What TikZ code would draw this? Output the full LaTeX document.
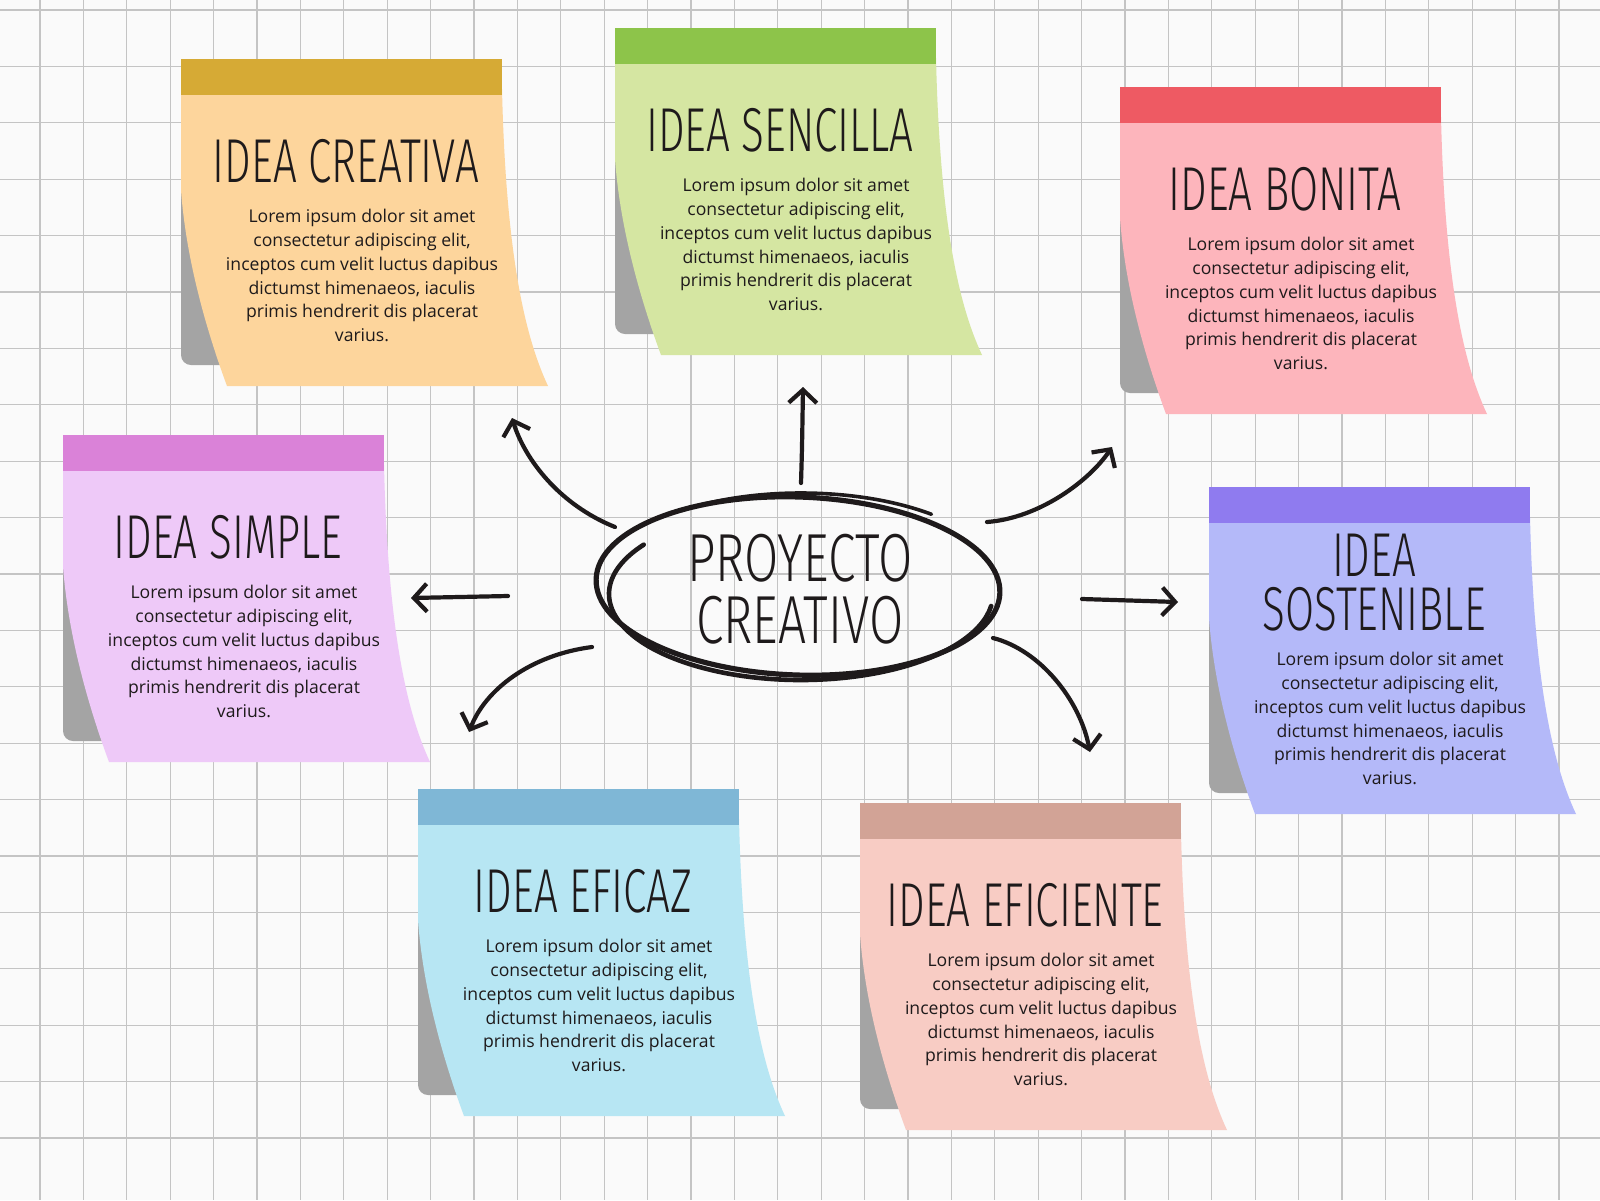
\documentclass[tikz,border=0pt]{standalone}
\usepackage{fontspec}
\setmainfont{Open Sans}
\newfontfamily\titlefont[FakeStretch=0.68]{Fira Sans Light}
\newfontfamily\centerfont[FakeStretch=0.73]{Fira Sans Light}
\usepackage{tikz}
\usetikzlibrary{arrows.meta,positioning,calc}

\definecolor{paper}{HTML}{FAFAFA}
\definecolor{gridgray}{HTML}{C4C4C4}
\definecolor{shadowgray}{HTML}{A4A4A4}
\definecolor{ink}{HTML}{1E1A1B}
\definecolor{creativaTab}{HTML}{D6AA35}
\definecolor{creativaBody}{HTML}{FDD59C}
\definecolor{sencillaTab}{HTML}{8DC44A}
\definecolor{sencillaBody}{HTML}{D5E6A2}
\definecolor{bonitaTab}{HTML}{EE5A63}
\definecolor{bonitaBody}{HTML}{FDB5BC}
\definecolor{simpleTab}{HTML}{DA82D8}
\definecolor{simpleBody}{HTML}{EEC9F8}
\definecolor{sostenibleTab}{HTML}{8F7BEF}
\definecolor{sostenibleBody}{HTML}{B4B9F9}
\definecolor{eficazTab}{HTML}{7FB7D6}
\definecolor{eficazBody}{HTML}{B7E6F3}
\definecolor{eficienteTab}{HTML}{D2A396}
\definecolor{eficienteBody}{HTML}{F8CCC4}

\newcommand{\loremtxt}{Lorem ipsum dolor sit amet\\ consectetur adipiscing elit,\\
  inceptos cum velit luctus dapibus\\ dictumst himenaeos, iaculis\\
  primis hendrerit dis placerat\\ varius.}

% #1 name, #2 x, #3 y (top left of the tab), #4 tab, #5 body,
% #6 title, #7 title offset, #8 text offset
\newcommand{\postit}[8]{%
  \fill[shadowgray,rounded corners=5pt] (#2,#3+60) rectangle (#2+170,#3+306);
  \fill[#5] (#2,#3+30) -- (#2+321,#3+30)
    .. controls (#2+325,#3+200) and (#2+345,#3+280) .. (#2+367,#3+327)
    -- (#2+46,#3+327)
    .. controls (#2+25,#3+270) and (#2+5,#3+200) .. (#2,#3+131) -- cycle;
  \fill[#4] (#2,#3) rectangle (#2+321,#3+36);
  \node[ideatitle] (#1) at (#2+165,#3+#7) {#6};
  \node[ideatext,anchor=north] (#1-txt) at (#2+181,#3+#8) {\loremtxt};
}

\begin{document}
\begin{tikzpicture}[x=0.5pt,y=-0.5pt,
  ideatitle/.style={font=\titlefont\fontsize{31}{27}\selectfont,
    text=ink,inner sep=0pt,align=center},
  ideatext/.style={font=\fontsize{8.8}{11.9}\selectfont,
    text=ink,inner sep=0pt,align=center},
  gridline/.style={gridgray,line width=0.55pt},
  scribble/.style={ink,line width=2.6pt,line cap=round},
  idea arrow/.style={ink,line width=2.1pt,line cap=round,
    -{Straight Barb[length=6.5pt,width=14pt]}}]
\useasboundingbox (0,0) rectangle (1600,1200);
\fill[paper] (0,0) rectangle (1600,1200);
%\draw[help lines] (0,0) grid (1600,1200);
\foreach \i in {0,...,35}
  \draw[gridline] ({40+43.4*\i},0) -- ({40+43.4*\i},1200);
\foreach \j in {0,...,20}
  \draw[gridline] (0,{10+56.4*\j}) -- (1600,{10+56.4*\j});

\postit{creativa}{181}{59}{creativaTab}{creativaBody}{IDEA CREATIVA}{102}{150}
\postit{sencilla}{615}{28}{sencillaTab}{sencillaBody}{IDEA SENCILLA}{102}{150}
\postit{bonita}{1120}{87}{bonitaTab}{bonitaBody}{IDEA BONITA}{102}{150}
\postit{simple}{63}{435}{simpleTab}{simpleBody}{IDEA SIMPLE}{102}{150}
\postit{sostenible}{1209}{487}{sostenibleTab}{sostenibleBody}{IDEA\\SOSTENIBLE}{96}{165}
\postit{eficaz}{418}{789}{eficazTab}{eficazBody}{IDEA EFICAZ}{102}{150}
\postit{eficiente}{860}{803}{eficienteTab}{eficienteBody}{IDEA EFICIENTE}{102}{150}

% centre
\node[ideatitle,font=\centerfont\fontsize{34}{31}\selectfont] (proyecto)
  at (800,589) {PROYECTO\\CREATIVO};
\draw[scribble] (798,586) ellipse [x radius=202,y radius=89,rotate=-2];
\draw[scribble,line width=2.3pt] (801,594) ++(215:192 and 86)
  arc[start angle=215,end angle=8,x radius=192,y radius=86];
\draw[scribble,line width=1.8pt] (801,584) ++(-126:203 and 91)
  arc[start angle=-126,end angle=-50,x radius=203,y radius=91];

% arrows
\coordinate (sencilla-from) at (801,483);
\coordinate (sencilla-to) at (803,387);
\coordinate (creativa-from) at (615,527);
\coordinate (creativa-to) at (512,418);
\coordinate (bonita-from) at (987,522);
\coordinate (bonita-to) at (1112,447);
\coordinate (sostenible-from) at (1082,599);
\coordinate (sostenible-to) at (1178,602);
\coordinate (simple-from) at (508,596);
\coordinate (simple-to) at (411,598);
\coordinate (eficaz-from) at (592,647);
\coordinate (eficaz-to) at (469,732);
\coordinate (eficiente-from) at (993,638);
\coordinate (eficiente-to) at (1090,752);

\draw[idea arrow] (sencilla-from) .. controls (802,450) .. (sencilla-to);
\draw[idea arrow] (creativa-from) .. controls (560,505) and (525,460) .. (creativa-to);
\draw[idea arrow] (bonita-from) .. controls (1040,518) and (1090,480) .. (bonita-to);
\draw[idea arrow] (sostenible-from) -- (sostenible-to);
\draw[idea arrow] (simple-from) -- (simple-to);
\draw[idea arrow] (eficaz-from) .. controls (530,655) and (485,690) .. (eficaz-to);
\draw[idea arrow] (eficiente-from) .. controls (1040,650) and (1080,700) .. (eficiente-to);
\end{tikzpicture}
\end{document}
